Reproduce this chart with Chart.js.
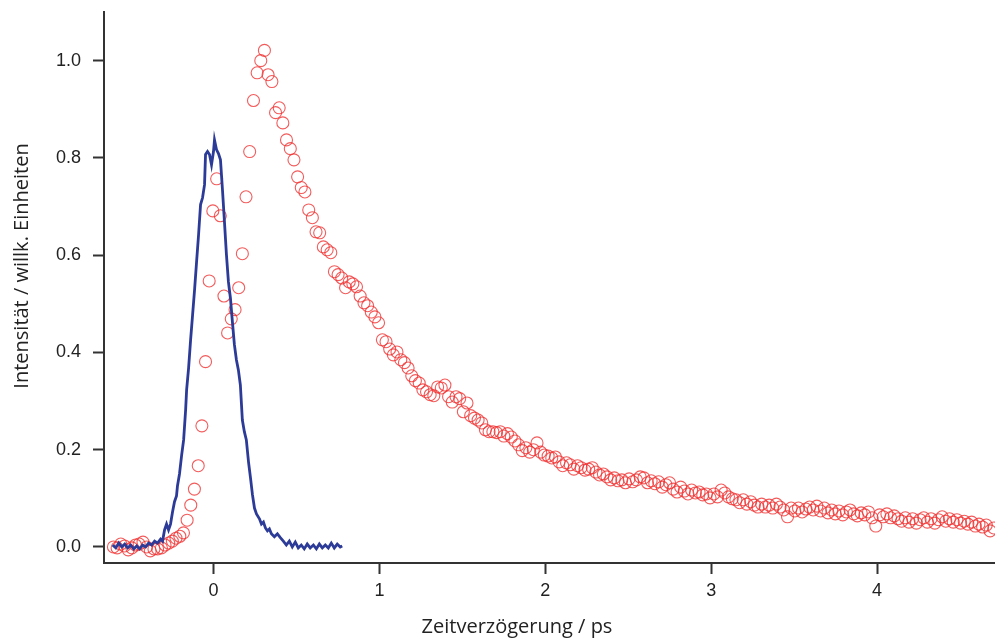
<!DOCTYPE html>
<html>
<head>
<meta charset="utf-8">
<title>Zeitverzögerung</title>
<script src="https://cdn.jsdelivr.net/npm/chart.js@4.4.1/dist/chart.umd.min.js"></script>
<style>
  body { margin: 0; background: #fff; overflow: hidden; }
  #chart { display: block; }
</style>
</head>
<body>
<canvas id="chart" width="1002" height="641"></canvas>
<script>
// delay times (ps) of the measured signal (red circles)
const signalTime = [
  -0.603, -0.581, -0.559, -0.536, -0.514, -0.492, -0.470, -0.448, -0.425, -0.403,
  -0.381, -0.359, -0.337, -0.314, -0.292, -0.270, -0.248, -0.226, -0.203, -0.181,
  -0.159, -0.137, -0.115, -0.092, -0.070, -0.048, -0.026, -0.004, 0.019, 0.041,
  0.063, 0.085, 0.107, 0.130, 0.152, 0.174, 0.196, 0.218, 0.241, 0.263,
  0.285, 0.307, 0.329, 0.352, 0.374, 0.396, 0.418, 0.440, 0.463, 0.485,
  0.507, 0.529, 0.551, 0.574, 0.596, 0.618, 0.640, 0.662, 0.685, 0.707,
  0.729, 0.751, 0.773, 0.796, 0.818, 0.840, 0.862, 0.884, 0.907, 0.929,
  0.951, 0.973, 0.995, 1.018, 1.040, 1.062, 1.084, 1.106, 1.129, 1.151,
  1.173, 1.195, 1.217, 1.240, 1.262, 1.284, 1.306, 1.328, 1.351, 1.373,
  1.395, 1.417, 1.439, 1.462, 1.484, 1.506, 1.528, 1.550, 1.573, 1.595,
  1.617, 1.639, 1.661, 1.684, 1.706, 1.728, 1.750, 1.772, 1.795, 1.817,
  1.839, 1.861, 1.883, 1.906, 1.928, 1.950, 1.972, 1.994, 2.017, 2.039,
  2.061, 2.083, 2.105, 2.128, 2.150, 2.172, 2.194, 2.216, 2.239, 2.261,
  2.283, 2.305, 2.327, 2.350, 2.372, 2.394, 2.416, 2.438, 2.461, 2.483,
  2.505, 2.527, 2.549, 2.572, 2.594, 2.616, 2.638, 2.660, 2.683, 2.705,
  2.727, 2.749, 2.771, 2.794, 2.816, 2.838, 2.860, 2.882, 2.905, 2.927,
  2.949, 2.971, 2.993, 3.016, 3.038, 3.060, 3.082, 3.104, 3.127, 3.149,
  3.171, 3.193, 3.215, 3.238, 3.260, 3.282, 3.304, 3.326, 3.349, 3.371,
  3.393, 3.415, 3.437, 3.460, 3.482, 3.504, 3.526, 3.548, 3.571, 3.593,
  3.615, 3.637, 3.659, 3.682, 3.704, 3.726, 3.748, 3.770, 3.793, 3.815,
  3.837, 3.859, 3.881, 3.904, 3.926, 3.948, 3.970, 3.992, 4.015, 4.037,
  4.059, 4.081, 4.103, 4.126, 4.148, 4.170, 4.192, 4.214, 4.237, 4.259,
  4.281, 4.303, 4.325, 4.348, 4.370, 4.392, 4.414, 4.436, 4.459, 4.481,
  4.503, 4.525, 4.547, 4.570, 4.592, 4.614, 4.636, 4.658, 4.681, 4.703
];

const signalValue = [
  0.000, -0.002, 0.006, 0.002, -0.006, -0.002, 0.004, 0.006, 0.010, 0.000,
  -0.008, -0.004, -0.004, -0.002, 0.004, 0.008, 0.012, 0.018, 0.022, 0.029,
  0.055, 0.086, 0.119, 0.167, 0.249, 0.381, 0.547, 0.691, 0.757, 0.681,
  0.516, 0.440, 0.469, 0.488, 0.533, 0.603, 0.720, 0.813, 0.918, 0.975,
  1.000, 1.021, 0.971, 0.957, 0.893, 0.903, 0.872, 0.837, 0.819, 0.796,
  0.761, 0.739, 0.730, 0.693, 0.677, 0.648, 0.646, 0.617, 0.611, 0.605,
  0.566, 0.560, 0.553, 0.533, 0.545, 0.541, 0.535, 0.516, 0.502, 0.496,
  0.483, 0.473, 0.461, 0.426, 0.422, 0.407, 0.395, 0.401, 0.385, 0.379,
  0.368, 0.352, 0.342, 0.337, 0.323, 0.319, 0.313, 0.311, 0.329, 0.327,
  0.333, 0.309, 0.298, 0.309, 0.305, 0.278, 0.296, 0.270, 0.265, 0.261,
  0.255, 0.241, 0.237, 0.237, 0.235, 0.237, 0.228, 0.233, 0.226, 0.218,
  0.210, 0.198, 0.204, 0.195, 0.200, 0.214, 0.195, 0.189, 0.187, 0.183,
  0.185, 0.175, 0.167, 0.173, 0.169, 0.160, 0.167, 0.163, 0.158, 0.160,
  0.163, 0.154, 0.148, 0.150, 0.144, 0.138, 0.142, 0.136, 0.138, 0.132,
  0.140, 0.134, 0.138, 0.144, 0.142, 0.132, 0.136, 0.130, 0.134, 0.123,
  0.128, 0.132, 0.119, 0.113, 0.123, 0.115, 0.109, 0.117, 0.111, 0.113,
  0.107, 0.109, 0.101, 0.109, 0.103, 0.117, 0.111, 0.103, 0.099, 0.097,
  0.091, 0.097, 0.088, 0.093, 0.086, 0.082, 0.088, 0.082, 0.086, 0.080,
  0.088, 0.082, 0.076, 0.062, 0.080, 0.074, 0.080, 0.072, 0.078, 0.082,
  0.076, 0.084, 0.074, 0.080, 0.070, 0.076, 0.068, 0.074, 0.066, 0.072,
  0.076, 0.068, 0.064, 0.070, 0.066, 0.072, 0.060, 0.043, 0.066, 0.062,
  0.068, 0.060, 0.064, 0.058, 0.053, 0.060, 0.051, 0.058, 0.049, 0.056,
  0.060, 0.051, 0.058, 0.049, 0.056, 0.062, 0.053, 0.058, 0.051, 0.056,
  0.049, 0.053, 0.047, 0.051, 0.043, 0.047, 0.041, 0.045, 0.033, 0.039
];

// instrument response (blue line)
const pulseTime = [
  -0.608, -0.589, -0.571, -0.553, -0.535, -0.517, -0.499, -0.481, -0.463, -0.445,
  -0.427, -0.409, -0.391, -0.373, -0.355, -0.337, -0.319, -0.307, -0.295, -0.283,
  -0.271, -0.259, -0.247, -0.235, -0.223, -0.217, -0.205, -0.192, -0.180, -0.168,
  -0.162, -0.150, -0.138, -0.126, -0.114, -0.102, -0.090, -0.078, -0.066, -0.054,
  -0.048, -0.036, -0.024, -0.012, 0.000, 0.006, 0.018, 0.030, 0.042, 0.054,
  0.066, 0.078, 0.090, 0.102, 0.114, 0.126, 0.138, 0.150, 0.162, 0.174,
  0.186, 0.198, 0.211, 0.223, 0.235, 0.247, 0.259, 0.277, 0.289, 0.301,
  0.313, 0.325, 0.337, 0.349, 0.367, 0.385, 0.403, 0.421, 0.439, 0.457,
  0.475, 0.493, 0.511, 0.529, 0.547, 0.565, 0.583, 0.602, 0.620, 0.638,
  0.656, 0.674, 0.692, 0.710, 0.728, 0.746, 0.764, 0.776
];

const pulseValue = [
  0.004, -0.002, 0.008, 0.000, 0.006, -0.002, 0.004, -0.004, 0.002, -0.004,
  0.004, 0.000, 0.008, 0.004, 0.012, 0.008, 0.016, 0.012, 0.035, 0.047,
  0.035, 0.047, 0.072, 0.093, 0.105, 0.126, 0.150, 0.189, 0.220, 0.282,
  0.323, 0.368, 0.426, 0.477, 0.529, 0.586, 0.642, 0.704, 0.718, 0.745,
  0.807, 0.813, 0.807, 0.786, 0.813, 0.837, 0.817, 0.809, 0.796, 0.735,
  0.669, 0.601, 0.545, 0.512, 0.463, 0.416, 0.385, 0.364, 0.333, 0.261,
  0.237, 0.220, 0.175, 0.142, 0.107, 0.080, 0.068, 0.058, 0.047, 0.051,
  0.039, 0.033, 0.037, 0.027, 0.021, 0.027, 0.019, 0.012, 0.004, 0.012,
  0.000, 0.010, -0.002, 0.004, -0.004, 0.006, -0.002, 0.004, -0.004, 0.006,
  -0.002, 0.004, -0.002, 0.008, -0.002, 0.006, 0.000, 0.002
];

const xTicks = [0, 1, 2, 3, 4];
const yTicks = [0.0, 0.2, 0.4, 0.6, 0.8, 1.0];

const xTitle = 'Zeitverzögerung / ps';
const yTitle = 'Intensität / willk. Einheiten';

const toPoints = (xs, ys) => xs.map((x, i) => ({ x: x, y: ys[i] }));

const axisColor = '#333';
const tickFont = { family: '"Liberation Sans", Arial, sans-serif', size: 18 };

// axis titles are not centred on the plot area in the original, so draw them by hand
const axisTitles = {
  id: 'axisTitles',
  afterDraw(chart) {
    const ctx = chart.ctx;
    ctx.save();
    ctx.fillStyle = '#222';
    ctx.font = '20px "Open Sans", "Noto Sans", sans-serif';
    ctx.textAlign = 'center';
    ctx.textBaseline = 'middle';
    ctx.fillText(xTitle, 517, 627);
    ctx.translate(22, 266);
    ctx.rotate(-Math.PI / 2);
    ctx.fillText(yTitle, 0, 0);
    ctx.restore();
  }
};

new Chart(document.getElementById('chart').getContext('2d'), {
  type: 'scatter',
  data: {
    datasets: [
      {
        label: 'Puls',
        data: toPoints(pulseTime, pulseValue),
        showLine: true,
        borderColor: '#2c3b97',
        borderWidth: 2.8,
        pointRadius: 0,
        tension: 0,
        order: 0,
        clip: 0
      },
      {
        label: 'Signal',
        data: toPoints(signalTime, signalValue),
        showLine: false,
        pointStyle: 'circle',
        pointRadius: 6,
        borderColor: 'rgba(240, 50, 50, 0.8)',
        backgroundColor: 'rgba(0, 0, 0, 0)',
        borderWidth: 1.1,
        order: 1,
        clip: { left: 8, top: 0, right: 0, bottom: 8 }
      }
    ]
  },
  options: {
    responsive: false,
    animation: false,
    devicePixelRatio: 1,
    layout: { padding: { top: 12, right: 2, left: 0, bottom: 0 } },
    plugins: {
      legend: { display: false },
      tooltip: { enabled: false }
    },
    scales: {
      x: {
        type: 'linear',
        min: -0.66,
        max: 4.71,
        afterFit: (scale) => {
          scale.height = 78;
          scale.paddingLeft = 0;
          scale.paddingRight = 0;
        },
        afterBuildTicks: (scale) => { scale.ticks = xTicks.map(v => ({ value: v })); },
        border: { display: true, color: axisColor, width: 2 },
        grid: {
          drawOnChartArea: false,
          drawTicks: true,
          tickLength: 11,
          tickWidth: 2,
          tickColor: axisColor
        },
        ticks: {
          color: '#222',
          font: tickFont,
          padding: 6,
          maxRotation: 0,
          callback: (v) => String(v)
        }
      },
      y: {
        type: 'linear',
        min: -0.033,
        max: 1.1,
        afterFit: (scale) => {
          scale.width = 104;
          scale.paddingTop = 0;
          scale.paddingBottom = 0;
        },
        afterBuildTicks: (scale) => { scale.ticks = yTicks.map(v => ({ value: v })); },
        border: { display: true, color: axisColor, width: 2 },
        grid: {
          drawOnChartArea: false,
          drawTicks: true,
          tickLength: 11,
          tickWidth: 2,
          tickColor: axisColor
        },
        ticks: {
          color: '#222',
          font: tickFont,
          padding: 12,
          callback: (v) => Number(v).toFixed(1)
        }
      }
    }
  },
  plugins: [axisTitles]
});
</script>
</body>
</html>
